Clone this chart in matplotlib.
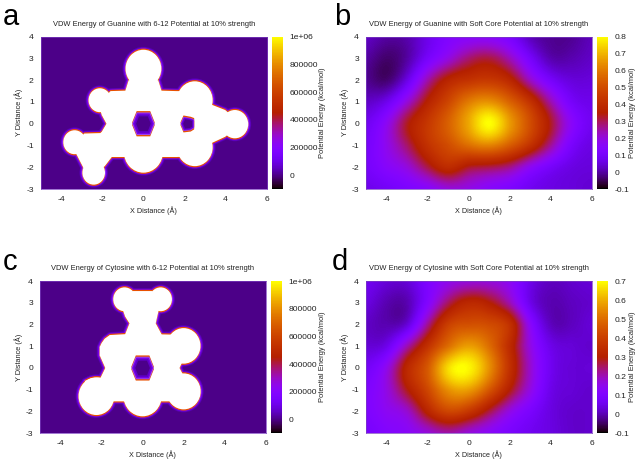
import numpy as np
import matplotlib
matplotlib.use('Agg')
import matplotlib.pyplot as plt
from matplotlib.colors import LinearSegmentedColormap
from matplotlib.patches import Circle, Polygon

plt.rcParams['font.family'] = ['Liberation Sans', 'DejaVu Sans']
plt.rcParams['axes.unicode_minus'] = False

W, H = 640, 463

guanine_x = [0, -2.12, -3.35, -2.42, 0, 2.5, 2.5, 4.45]
guanine_y = [2.53, 1.08, -0.85, -2.25, -1.3, -1.08, 1.08, -0.02]
guanine_r = [0.87, 0.55, 0.55, 0.55, 0.95, 0.87, 0.87, 0.65]
guanine_body = [(-0.72, 2.0), (0.72, 2.0), (0.88, 1.52), (1.6, 1.5), (2.5, 1.5), (3.36, 0.86), (3.98, 0.63),
                (4.5, 0.2), (4.5, -0.2), (3.98, -0.6), (3.36, -0.87), (2.5, -1.5), (1.6, -1.53), (0.85, -1.53),
                (0, -1.8), (-0.85, -1.53), (-1.54, -1.53), (-1.88, -1.95), (-2.42, -2.3), (-2.92, -2.03),
                (-3.33, -1.28), (-3.3, -0.9), (-2.88, -0.45), (-2.1, -0.43), (-2.03, -0.37), (-1.8, 0),
                (-2.03, 0.4), (-2.1, 0.63), (-2.1, 1.0), (-1.6, 1.5), (-0.88, 1.52)]
guanine_holes = [[(-0.33, 0.52), (0.33, 0.52), (0.55, 0), (0.33, -0.52), (-0.33, -0.52), (-0.55, 0)],
                 [(1.95, 0.32), (2.3, 0.26), (2.47, 0.2), (2.47, -0.2), (2.3, -0.3), (1.95, -0.34), (1.8, 0)]]

cytosine_x = [-0.88, 0.88, 2.0, 2.0, 0, -2.25]
cytosine_y = [3.17, 3.17, 1.02, -1.08, -1.3, -1.3]
cytosine_r = [0.55, 0.55, 0.82, 0.83, 0.93, 0.87]
cytosine_body = [(-0.47, 3.55), (0.47, 3.55), (0.88, 3.0), (0.77, 2.6), (0.64, 2.06), (0.93, 1.55), (1.48, 1.54),
                 (2.0, 1.2), (2.78, 0.82), (2.05, 0.5), (1.8, 0), (2.05, -0.45), (2.78, -0.95), (2.0, -1.2),
                 (1.48, -1.54), (0.88, -1.54), (0, -1.8), (-0.93, -1.54), (-1.45, -1.54), (-2.25, -1.5),
                 (-2.82, -0.6), (-2.5, -0.47), (-2.05, -0.45), (-1.82, 0), (-2.09, 0.58), (-2.09, 0.97),
                 (-2.0, 1.15), (-1.85, 1.35), (-1.6, 1.52), (-0.85, 1.56), (-0.64, 2.06), (-0.85, 2.37),
                 (-1.02, 2.83), (-0.88, 3.0)]
cytosine_holes = [[(-0.33, 0.52), (0.33, 0.52), (0.55, 0), (0.33, -0.52), (-0.33, -0.52), (-0.55, 0)]]

lj_background = [[0, 0], [0, 0]]

# soft core maps, rows y = 4 .. -3, columns x = -5 .. 6
guanine_sc = [
    [.03, .00, .01, .07, .13, .15, .15, .11, .02, -.01, -.01, .02],
    [.00, -.035, .00, .10, .19, .28, .31, .23, .10, .01, .01, .03],
    [-.01, -.035, .06, .24, .37, .42, .44, .38, .22, .10, .05, .05],
    [.03, .07, .20, .36, .48, .60, .64, .55, .42, .24, .10, .07],
    [.08, .17, .33, .44, .55, .68, .80, .66, .50, .33, .16, .08],
    [.10, .18, .29, .42, .50, .58, .62, .54, .42, .26, .11, .06],
    [.10, .15, .20, .31, .40, .33, .31, .27, .17, .10, .06, .05],
    [.07, .09, .12, .15, .20, .19, .15, .12, .08, .06, .05, .04],
]

cytosine_sc = [
    [.06, .03, .03, .10, .15, .17, .17, .14, .05, .01, .02, .03],
    [.04, .00, .00, .11, .25, .33, .30, .20, .05, .00, .01, .02],
    [.015, .00, .03, .22, .40, .44, .43, .36, .13, .01, .01, .03],
    [.03, .05, .20, .36, .50, .58, .50, .34, .16, .05, .03, .02],
    [.07, .15, .33, .46, .66, .69, .56, .36, .18, .06, .03, .03],
    [.10, .16, .29, .42, .56, .58, .46, .30, .16, .05, .03, .02],
    [.10, .14, .18, .32, .42, .38, .27, .16, .09, .04, .02, .02],
    [.08, .11, .13, .17, .21, .17, .13, .09, .06, .04, .02, .02],
]

lj_ticks = [0, 200000, 400000, 600000, 800000, 1000000]
lj_labels = ['0', '200000', '400000', '600000', '800000', '1e+06']
guanine_ticks = [-.1, 0, .1, .2, .3, .4, .5, .6, .7, .8]
cytosine_ticks = [-.1, 0, .1, .2, .3, .4, .5, .6, .7]

# gnuplot default palette (rgbformulae 7,5,15)
s = np.linspace(0, 1, 256)
pal = np.column_stack([np.sqrt(s), s ** 3, np.clip(np.sin(2 * np.pi * s), 0, 1)])
cmap = LinearSegmentedColormap.from_list('gp', pal, N=256)

text_col = '#222222'


def axes_px(x0, x1, y0, y1):
    return fig.add_axes([x0 / W, 1 - y1 / H, (x1 - x0) / W, (y1 - y0) / H])


def shapes(ax, xs, ys, rs, body, dy, color, lw, z):
    for x, y, r in zip(xs, ys, rs):
        ax.add_patch(Circle((x, y + dy), r, fc=color, ec=color, lw=lw, zorder=z))
    pts = [(p[0], p[1] + dy) for p in body]
    ax.add_patch(Polygon(pts, closed=True, fc=color, ec=color, lw=lw, joinstyle='round', zorder=z))


def clipped_region(ax, xs, ys, rs, body, holes):
    # halo first, then the thin red rim on top/bottom edges, white last
    z = 2
    for lw, col in [(4.2, '#5800b4'), (3.0, '#6c00d8'), (2.0, '#8000f0'), (1.0, '#a050f8')]:
        shapes(ax, xs, ys, rs, body, 0, col, lw, z)
        z += 1
    for dy in (-0.055, 0.055):
        shapes(ax, xs, ys, rs, body, dy, '#e85000', 0, z)
    z += 1
    shapes(ax, xs, ys, rs, body, 0, 'white', 0, z)
    z += 1
    for hole in holes:
        pts = np.array(hole)
        mid = pts.mean(axis=0)
        for dy in (-0.06, 0.06):
            ax.add_patch(Polygon(pts + [0, dy], fc='#e85000', lw=0, zorder=z))
        for scale, col in [(1.0, '#a050f0'), (0.92, '#7a00e8'), (0.8, '#6000c8'), (0.65, '#4c008a')]:
            z += 1
            ax.add_patch(Polygon(mid + (pts - mid) * scale, fc=col, lw=0, zorder=z))
        z += 1


def panel(box, cbox, data, extent, interp, vmin, vmax, title, letter, letter_x, letter_y,
          ticks, ticklabels, side_x):
    x0, x1, y0, y1 = box
    ax = axes_px(x0, x1, y0, y1)
    im = ax.imshow(data, extent=extent, aspect='auto', cmap=cmap, vmin=vmin, vmax=vmax,
                   interpolation=interp, interpolation_stage='data')
    ax.set_xlim(-5, 6)
    ax.set_ylim(-3, 4)
    ax.set_xticks([-4, -2, 0, 2, 4, 6])
    ax.set_yticks([-3, -2, -1, 0, 1, 2, 3, 4])
    ax.tick_params(length=0, labelsize=6.1, colors=text_col, pad=5)
    for sp in ax.spines.values():
        sp.set_color('#7a3fc0')
        sp.set_linewidth(0.5)
    cx = (x0 + x1) / 2
    fig.text(cx / W, 1 - (y0 - 12.5) / H, title, fontsize=5.42, ha='center', va='center', color=text_col)
    fig.text(cx / W, 1 - (y1 + 21.5) / H, 'X Distance (Å)', fontsize=5.2, ha='center', va='center', color=text_col)
    fig.text((x0 - 21.7) / W, 1 - (y0 + y1) / 2 / H, 'Y Distance (Å)', fontsize=5.3, rotation=90,
             ha='center', va='center', color=text_col)
    fig.text(side_x / W, 1 - (y0 + y1) / 2 / H, 'Potential Energy (kcal/mol)', fontsize=5.4, rotation=90,
             ha='center', va='center', color=text_col)
    fig.text(letter_x / W, 1 - letter_y / H, letter, fontsize=21, ha='left', va='baseline', color='black')

    cax = axes_px(cbox[0], cbox[1], y0, y1)
    cb = fig.colorbar(im, cax=cax)
    cb.set_ticks(ticks)
    cb.set_ticklabels(ticklabels)
    cb.ax.tick_params(length=0, labelsize=6.1, colors=text_col, pad=4.5)
    cb.outline.set_visible(False)
    return ax


fig = plt.figure(figsize=(W / 100, H / 100), dpi=100)

lj_ext = (-5, 6, -3, 4)
sc_ext = (-5.5, 6.5, -3.5, 4.5)

ax_a = panel((40.7, 266.7, 36.7, 189), (271.7, 283), lj_background, lj_ext, 'nearest', -100000, 1000000,
             'VDW Energy of Guanine with 6-12 Potential at 10% strength', 'a', 3, 25, lj_ticks, lj_labels, 322.5)
clipped_region(ax_a, guanine_x, guanine_y, guanine_r, guanine_body, guanine_holes)

panel((366, 591.7, 36.7, 189), (597.3, 608.3), np.array(guanine_sc), sc_ext, 'spline16', -.1, .8,
      'VDW Energy of Guanine with Soft Core Potential at 10% strength', 'b', 334, 25,
      guanine_ticks, ['%g' % t for t in guanine_ticks], 632)

ax_c = panel((40, 265.7, 281.3, 433), (271, 282.3), lj_background, lj_ext, 'nearest', -100000, 1000000,
             'VDW Energy of Cytosine with 6-12 Potential at 10% strength', 'c', 3, 270, lj_ticks, lj_labels, 322.5)
clipped_region(ax_c, cytosine_x, cytosine_y, cytosine_r, cytosine_body, cytosine_holes)

panel((366, 591.7, 281.3, 433), (597.3, 608.3), np.array(cytosine_sc), sc_ext, 'spline16', -.1, .7,
      'VDW Energy of Cytosine with Soft Core Potential at 10% strength', 'd', 332, 270,
      cytosine_ticks, ['%g' % t for t in cytosine_ticks], 632)

fig.savefig('out.png', dpi=100)
